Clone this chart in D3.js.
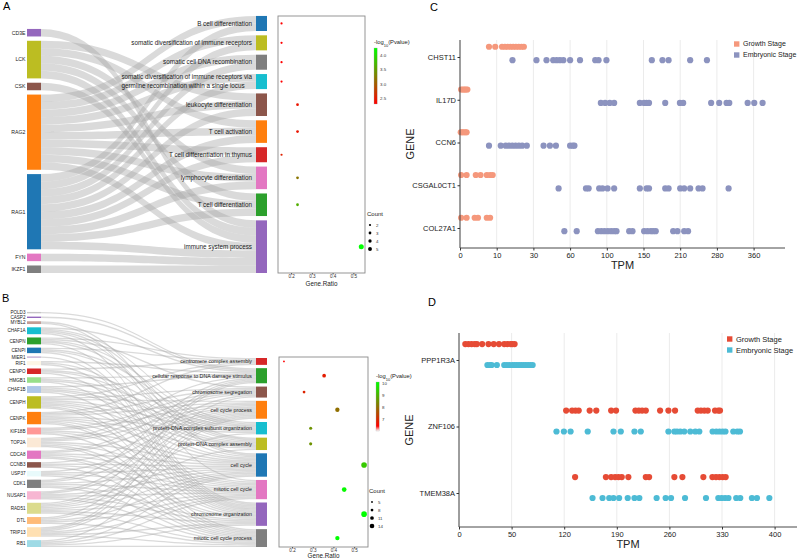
<!DOCTYPE html>
<html>
<head>
<meta charset="utf-8">
<script src="https://cdn.jsdelivr.net/npm/d3@7"></script>
<style>
  body { margin: 0; background: #fff; }
  text { font-family: "Liberation Sans", Arial, sans-serif; }
</style>
</head>
<body>
<div id="chart"></div>
<script>
// ---------- panel A data ----------
const aGenes = ["CD3E", "LCK", "CSK", "RAG2", "RAG1", "FYN", "IKZF1"];
const aGeneColors = ["#9467bd", "#bcbd22", "#8c564b", "#ff7f0e", "#1f77b4", "#e377c2", "#7f7f7f"];
const aTerms = ["B cell differentiation", "somatic diversification of immune receptors",
    "somatic cell DNA recombination",
    "somatic diversification of immune receptors via germline recombination within a single locus",
    "leukocyte differentiation", "T cell activation", "T cell differentiation in thymus",
    "lymphocyte differentiation", "T cell differentiation", "immune system process"];
const aTermColors = ["#1f77b4", "#bcbd22", "#7f7f7f", "#17becf", "#8c564b", "#ff7f0e", "#d62728", "#e377c2", "#2ca02c", "#9467bd"];
// term indices each gene links to
const aGeneTerms = [[9], [4, 5, 7, 8, 9], [9], [0, 1, 2, 3, 4, 5, 6, 7, 8, 9], [0, 1, 2, 3, 4, 5, 6, 7, 8, 9], [9], [9]];
const aRatio = [0.154, 0.154, 0.154, 0.154, 0.231, 0.231, 0.154, 0.231, 0.231, 0.538];
const aLogP = [2.3, 2.3, 2.3, 2.3, 2.45, 2.45, 2.55, 3.2, 3.65, 4.28];

// ---------- panel B data ----------
const bGenes = ["POLD3", "CASP2", "MYBL2", "CHAF1A", "CENPN", "CENPI", "MIER1", "RIF1", "CENPO", "HMGB1", "CHAF1B", "CENPH",
    "CENPK", "KIF18B", "TOP2A", "CDCA8", "CCNB3", "USP37", "CDK1", "NUSAP1", "RAD51", "DTL", "TRIP13", "RB1"];
const bGeneColors = ["#c7c7c7", "#9467bd", "#c49c94", "#17becf", "#2ca02c", "#1f77b4", "#c5b0d5", "#fdf6e6", "#d62728", "#98df8a", "#aec7e8", "#bcbd22",
    "#ff7f0e", "#ff9896", "#fbe9d6", "#e377c2", "#8c564b", "#e8fafb", "#7f7f7f", "#f7b6d2", "#dbdb8d", "#ffbb78", "#ffe0b2", "#9edae5"];
const bTerms = ["centromere complex assembly", "cellular response to DNA damage stimulus", "chromosome segregation",
    "cell cycle process", "protein-DNA complex subunit organization", "protein-DNA complex assembly", "cell cycle",
    "mitotic cell cycle", "chromosome organization", "mitotic cell cycle process"];
const bTermColors = ["#d62728", "#2ca02c", "#8c564b", "#ff7f0e", "#17becf", "#bcbd22", "#1f77b4", "#e377c2", "#9467bd", "#7f7f7f"];
const bGeneTerms = [[1], [1], [6, 7], [1, 4, 5, 6, 8], [0, 2, 4, 5, 8], [0, 4, 5, 8], [8], [1, 6, 8], [0, 4, 5, 8], [1, 4, 5, 8],
    [1, 4, 5, 6, 8], [0, 2, 3, 4, 5, 6, 7, 8, 9], [0, 2, 3, 4, 5, 6, 7, 8, 9], [2, 3, 6, 7, 9], [1, 2, 3, 6, 7, 8, 9],
    [2, 3, 6, 7, 8, 9], [3, 6, 7, 9], [3, 6, 7, 9], [1, 3, 6, 7, 8, 9], [2, 3, 6, 7, 8, 9], [1, 3, 4, 5, 6, 7, 8, 9],
    [1, 3, 6, 7, 9], [1, 2, 3, 6, 7, 8, 9], [3, 6, 7, 8, 9]];
const bRatio = [0.161, 0.355, 0.258, 0.419, 0.29, 0.29, 0.548, 0.452, 0.548, 0.419];
const bLogP = [6.4, 6.8, 6.9, 8.0, 8.5, 8.5, 9.3, 10.0, 10.08, 10.08];

// ---------- panel C data ----------
const cGenes = ["CHST11", "IL17D", "CCN6", "CSGAL0CT1", "COL27A1"];
const cTicks = [0, 10, 30, 60, 100, 150, 210, 280, 360];
const cGrowth = [
    [7.9, 9.6, 12.9, 14.5, 16, 17.5, 19, 20.5, 22, 23.5, 24.8],
    [0.3, 0.8, 1.2, 1.6, 2.0],
    [0.2, 0.6, 1.0, 1.5, 1.8],
    [0.3, 1.8, 4.3, 5.6, 7.3, 8.2, 8.9],
    [0.3, 1.8, 4.0, 4.9, 7.3, 8.2]
];
const cEmbryo = [
    [18.6, 32.5, 40.7, 46.2, 49, 51.7, 54.5, 60, 70.8, 87.4, 91, 99.6, 163.6, 181, 191, 229, 261],
    [93.5, 98.2, 104, 110, 145, 151, 155, 159, 185.5, 209.5, 215.7, 269, 285, 301, 307, 347, 361.6, 382],
    [7.9, 12.2, 14.9, 16.7, 18.5, 20.3, 22.1, 23.9, 26.4, 38.3, 43.5, 48.4, 60, 62.9, 64.7],
    [50.6, 77.3, 80.2, 91.7, 95.3, 101, 110, 145, 155, 159, 185.5, 191, 210, 217.6, 229, 245, 252.6, 305.5],
    [55.3, 67.2, 90.3, 94, 97.5, 101.4, 105.9, 110, 113.2, 130.5, 135, 151, 156.5, 162, 165.8, 170, 198.5, 205.5, 217.6, 225]
];

// ---------- panel D data ----------
const dGenes = ["PPP1R3A", "ZNF106", "TMEM38A"];
const dTicks = [0, 50, 120, 190, 260, 330, 400];
const dGrowth = [
    [6, 9, 12, 15, 17, 22, 28, 33, 38, 43, 46, 49, 51, 54],
    [122.6, 130.5, 135, 139.3, 153.9, 162.7, 182.5, 189, 214.8, 219.3, 223.7, 228.6, 247.6, 258.7, 267.5, 297.7, 302, 306.5, 311, 320.7, 325, 327.3],
    [134.5, 175.5, 182.5, 187.8, 192.2, 196.6, 205.4, 228.6, 233, 266.6, 277.3, 305.2, 317.2, 322, 326.5, 330.9, 334.9]
];
const dEmbryo = [
    [27, 29.5, 31, 36, 43, 45.5, 48, 51, 54, 57, 60, 63, 66, 69, 72, 75, 78],
    [109.7, 119.6, 128.5, 151.3, 185.6, 195.3, 213.5, 221.9, 258.7, 266.6, 270.1, 274.5, 279.8, 287.8, 294.5, 299.8, 317.5, 322.4, 326.8, 330.9, 334.6, 345, 350.3, 353.9],
    [157.7, 171, 179.9, 185.6, 193.1, 204.5, 213.5, 220, 243, 255, 262.2, 280.8, 308.7, 325.1, 329.6, 334.1, 338.6, 348.9, 354.3, 369.8, 376.5, 393]
];
const stageNames = ["Growth Stage", "Embryonic Stage"];

const width = 798, height = 559;
const svg = d3.select("#chart").append("svg")
    .attr("width", width)
    .attr("height", height);
const defs = svg.append("defs");

// panel letters
[["A", 3, 10], ["B", 2, 302], ["C", 430, 11], ["D", 428, 306]].forEach(l => {
    svg.append("text").attr("x", l[1]).attr("y", l[2]).style("font-size", "11px").text(l[0]);
});

function wrapLabel(s, max) {
    const words = s.split(" "), lines = [];
    let cur = "";
    words.forEach(w => {
        if (cur && (cur + " " + w).length > max) { lines.push(cur); cur = w; }
        else cur = cur ? cur + " " + w : w;
    });
    lines.push(cur);
    return lines;
}

function ribbon(x0, x1, s0, s1, t0, t1) {
    const xm = (x0 + x1) / 2;
    return `M${x0},${s0}C${xm},${s0} ${xm},${t0} ${x1},${t0}L${x1},${t1}C${xm},${t1} ${xm},${s1} ${x0},${s1}Z`;
}

// sankey + dot plot panel
function enrichPanel(o) {
    const g = svg.append("g");
    const links = [];
    o.geneTerms.forEach((ts, i) => ts.forEach(t => links.push({ g: i, t: t })));
    const geneCount = o.geneTerms.map(ts => ts.length);
    const termCount = o.terms.map((t, j) => links.filter(l => l.t === j).length);
    const total = links.length;
    const h = d3.scaleLinear().domain([0, total]).range([0, total * o.k]);

    function stack(counts) {
        const span = h(total) + (counts.length - 1) * o.gap;
        let y = o.bottom - span;
        return counts.map(c => { const y0 = y; y += h(c) + o.gap; return { y0: y0, y1: y0 + h(c) }; });
    }
    const gNodes = stack(geneCount), tNodes = stack(termCount);

    // link offsets
    const gOff = gNodes.map(n => n.y0), tOff = tNodes.map(n => n.y0);
    links.sort((a, b) => a.g - b.g || a.t - b.t).forEach(l => {
        l.s0 = gOff[l.g]; gOff[l.g] += h(1); l.s1 = gOff[l.g];
    });
    links.slice().sort((a, b) => a.t - b.t || a.g - b.g).forEach(l => {
        l.t0 = tOff[l.t]; tOff[l.t] += h(1); l.t1 = tOff[l.t];
    });

    const xg = o.geneX, xt = o.termX, bw = o.barW;
    g.append("g").selectAll("path").data(links).enter().append("path")
        .attr("d", l => ribbon(xg + bw, xt, l.s0, l.s1, l.t0, l.t1))
        .attr("fill", "#a8a8a8")
        .attr("fill-opacity", 0.42);

    g.append("g").selectAll("rect").data(gNodes).enter().append("rect")
        .attr("x", xg).attr("y", d => d.y0).attr("width", bw).attr("height", d => Math.max(0.8, d.y1 - d.y0))
        .attr("fill", (d, i) => o.geneColors[i]);
    g.append("g").selectAll("text").data(gNodes).enter().append("text")
        .attr("x", xg - 1.5).attr("y", d => (d.y0 + d.y1) / 2).attr("dy", "0.35em")
        .attr("text-anchor", "end").style("font-size", o.geneFont + "px").attr("fill", "#222")
        .text((d, i) => o.genes[i]);

    g.append("g").selectAll("rect").data(tNodes).enter().append("rect")
        .attr("x", xt).attr("y", d => d.y0).attr("width", bw - 3).attr("height", d => d.y1 - d.y0)
        .attr("fill", (d, i) => o.termColors[i]);
    tNodes.forEach((d, i) => {
        const lines = wrapLabel(o.terms[i], 48);
        const cy = (d.y0 + d.y1) / 2;
        const t = g.append("text").style("font-size", o.termFont + "px").attr("fill", "#1a1a1a");
        if (lines.length === 1) {
            t.attr("x", xt - 4).attr("y", cy).attr("dy", "0.35em").attr("text-anchor", "end").text(lines[0]);
        } else {
            t.text(lines[0]);
            const w0 = t.node().getComputedTextLength();
            t.text(null);
            lines.forEach((ln, k) => {
                t.append("tspan").attr("x", xt - 4 - w0)
                    .attr("y", cy + (k - (lines.length - 1) / 2) * o.termFont * 1.45)
                    .attr("dy", "0.35em").text(ln);
            });
        }
    });

    // dot plot
    const x = d3.scaleLinear().domain(o.ratioDomain).range([o.frame[0], o.frame[1]]);
    const col = d3.scaleLinear().domain(o.pDomain).range(["#ff0000", "#00ff00"])
        .interpolate(d3.interpolateRgb).clamp(true);
    const r = d3.scaleLinear().domain(o.sizeDomain).range(o.sizeRange);
    g.append("rect")
        .attr("x", o.frame[0]).attr("y", o.frame[2])
        .attr("width", o.frame[1] - o.frame[0]).attr("height", o.frame[3] - o.frame[2])
        .attr("fill", "none").attr("stroke", "#8a8a8a").attr("stroke-width", 0.9);
    g.append("g").selectAll("circle").data(o.ratio).enter().append("circle")
        .attr("cx", d => x(d))
        .attr("cy", (d, i) => (tNodes[i].y0 + tNodes[i].y1) / 2)
        .attr("r", (d, i) => r(termCount[i]))
        .attr("fill", (d, i) => col(o.logP[i]));
    const ax = g.append("g").attr("transform", `translate(0,${o.frame[3]})`)
        .call(d3.axisBottom(x).tickValues([0.2, 0.3, 0.4, 0.5]).tickSize(1.5).tickFormat(d3.format(".1f")));
    ax.select(".domain").remove();
    ax.selectAll("line").attr("stroke", "#555");
    ax.selectAll("text").attr("dy", 0).attr("y", 5).style("font-size", "4.6px").attr("fill", "#333");
    g.append("text").attr("x", (o.frame[0] + o.frame[1]) / 2).attr("y", o.frame[3] + o.titleDy)
        .attr("text-anchor", "middle").style("font-size", "6.3px").attr("fill", "#222").text("Gene.Ratio");

    // colour bar
    const cb = o.cbar;
    const cy = d3.scaleLinear().domain(o.pDomainBar).range([cb.bottom, cb.top]);
    const gid = "grad" + o.id;
    const grad = defs.append("linearGradient").attr("id", gid)
        .attr("x1", 0).attr("y1", 1).attr("x2", 0).attr("y2", 0);
    d3.range(0, 1.0001, 0.1).forEach(t => {
        const v = o.pDomainBar[0] + t * (o.pDomainBar[1] - o.pDomainBar[0]);
        grad.append("stop").attr("offset", t)
            .attr("stop-color", v < o.pDomain[0] - 0.15 ? "#ffffff" : col(v));
    });
    g.append("rect").attr("x", cb.x).attr("y", cb.top).attr("width", 3.2).attr("height", cb.bottom - cb.top)
        .attr("fill", `url(#${gid})`).attr("stroke", "#aaa").attr("stroke-width", 0.3);
    g.append("g").selectAll("text").data(o.pTicks).enter().append("text")
        .attr("x", cb.x + 6).attr("y", d => cy(d)).attr("dy", "0.35em")
        .style("font-size", "4.4px").attr("fill", "#333")
        .text(d => o.pFormat(d));
    const tt = g.append("text").attr("x", cb.x).attr("y", cb.top - 4)
        .style("font-size", "5.8px").attr("fill", "#222");
    tt.append("tspan").text("-log");
    tt.append("tspan").attr("baseline-shift", "sub").style("font-size", "4px").text("10");
    tt.append("tspan").text("(Pvalue)");

    // size legend
    const sl = o.sizeLegend;
    g.append("text").attr("x", sl.x).attr("y", sl.y).style("font-size", "6px").attr("fill", "#222").text("Count");
    o.sizeBreaks.forEach((s, i) => {
        const yy = sl.y + 9 + i * 8;
        g.append("circle").attr("cx", sl.x + 3).attr("cy", yy).attr("r", r(s)).attr("fill", "#000");
        g.append("text").attr("x", sl.x + 9).attr("y", yy).attr("dy", "0.35em")
            .style("font-size", "4.4px").attr("fill", "#333").text(s);
    });
}

enrichPanel({
    id: "A", genes: aGenes, geneColors: aGeneColors, terms: aTerms, termColors: aTermColors,
    geneTerms: aGeneTerms, ratio: aRatio, logP: aLogP,
    k: 7.52, gap: 4.33, bottom: 273, geneX: 27, termX: 256, barW: 14,
    geneFont: 5.2, termFont: 6.3, titleDy: 13,
    frame: [278, 365, 16, 273], ratioDomain: [0.137, 0.556],
    pDomain: [2.29, 4.28], pDomainBar: [2.29, 4.28], pTicks: [2.5, 3.0, 3.5, 4.0], pFormat: d3.format(".1f"),
    cbar: { x: 374, top: 48, bottom: 104 },
    sizeDomain: [2, 7], sizeRange: [1.1, 2.5], sizeBreaks: [2, 3, 4, 5],
    sizeLegend: { x: 367, y: 216 }
});

enrichPanel({
    id: "B", genes: bGenes, geneColors: bGeneColors, terms: bTerms, termColors: bTermColors,
    geneTerms: bGeneTerms, ratio: bRatio, logP: bLogP,
    k: 1.374, gap: 3.29, bottom: 547, geneX: 27, termX: 256, barW: 14,
    geneFont: 4.6, termFont: 5.3, titleDy: 10.5,
    frame: [279, 368, 357, 547], ratioDomain: [0.137, 0.567],
    pDomain: [6.4, 10.08], pDomainBar: [6.0, 10.08], pTicks: [7, 8, 9, 10], pFormat: d3.format("d"),
    cbar: { x: 376, top: 382, bottom: 431 },
    sizeDomain: [5, 17], sizeRange: [0.9, 2.8], sizeBreaks: [5, 8, 11, 14],
    sizeLegend: { x: 369, y: 493 }
});

// expression strip panels
function stagePanel(o) {
    const g = svg.append("g");
    const x = d3.scaleLinear().domain(o.ticks.concat([o.ticks[o.ticks.length - 1] + o.lastStep]))
        .range(d3.range(o.ticks.length + 1).map(i => o.x0 + i * o.step));
    const y = d3.scalePoint().domain(o.genes).range([o.yFirst, o.yLast]);
    const step = (o.yLast - o.yFirst) / (o.genes.length - 1);

    g.append("g").selectAll("line").data(o.ticks).enter().append("line")
        .attr("x1", d => x(d)).attr("x2", d => x(d)).attr("y1", o.top).attr("y2", o.bottom)
        .attr("stroke", "#e6e6e6").attr("stroke-width", 0.8);

    [o.growth, o.embryo].forEach((series, s) => {
        const off = s === 0 ? -0.24 * step : 0.075 * step;
        series.forEach((vals, gi) => {
            g.append("g").selectAll("circle").data(vals).enter().append("circle")
                .attr("cx", d => x(d))
                .attr("cy", y(o.genes[gi]) + off)
                .attr("r", 3.1)
                .attr("fill", o.colors[s]);
        });
    });

    const ax = g.append("g").attr("transform", `translate(0,${o.bottom})`)
        .call(d3.axisBottom(x).tickValues(o.ticks).tickSize(2.5));
    ax.select(".domain").remove();
    ax.selectAll("line").attr("stroke", "#333");
    ax.selectAll("text").style("font-size", "7.5px").attr("fill", "#222").attr("y", 5);
    const ay = g.append("g").attr("transform", `translate(${o.x0},0)`)
        .call(d3.axisLeft(y).tickSize(2.5));
    ay.select(".domain").remove();
    ay.selectAll("line").attr("stroke", "#333");
    ay.selectAll("text").style("font-size", "7.5px").attr("fill", "#222").attr("x", -4);
    g.append("line").attr("x1", o.x0).attr("x2", o.xEnd).attr("y1", o.bottom).attr("y2", o.bottom)
        .attr("stroke", "#333").attr("stroke-width", 0.9);
    g.append("line").attr("x1", o.x0).attr("x2", o.x0).attr("y1", o.top).attr("y2", o.bottom)
        .attr("stroke", "#333").attr("stroke-width", 0.9);

    g.append("text").attr("x", (o.x0 + o.xEnd) / 2).attr("y", o.bottom + 21)
        .attr("text-anchor", "middle").style("font-size", "11px").attr("fill", "#222").text("TPM");
    g.append("text").attr("transform", `translate(${o.x0 - 46},${(o.top + o.bottom) / 2}) rotate(-90)`)
        .attr("text-anchor", "middle").style("font-size", "11px").attr("fill", "#222").text("GENE");

    stageNames.forEach((n, i) => {
        g.append("rect").attr("x", o.legend.x).attr("y", o.legend.y + i * 11 - 2.7)
            .attr("width", 5.4).attr("height", 5.4).attr("fill", o.colors[i]);
        g.append("text").attr("x", o.legend.x + 9).attr("y", o.legend.y + i * 11).attr("dy", "0.35em")
            .style("font-size", o.legend.font + "px").attr("fill", "#222").text(n);
    });
}

stagePanel({
    genes: cGenes, ticks: cTicks, lastStep: 90, growth: cGrowth, embryo: cEmbryo,
    colors: ["#f5987c", "#8c93bf"],
    x0: 460, step: 36.7, xEnd: 785, top: 40, bottom: 248, yFirst: 57, yLast: 228,
    legend: { x: 734, y: 44, font: 7 }
});

stagePanel({
    genes: dGenes, ticks: dTicks, lastStep: 70, growth: dGrowth, embryo: dEmbryo,
    colors: ["#e64b35", "#4dbbd5"],
    x0: 459, step: 52.6, xEnd: 797, top: 333, bottom: 527, yFirst: 360, yLast: 493,
    legend: { x: 727, y: 339, font: 7.5 }
});
</script>
</body>
</html>
